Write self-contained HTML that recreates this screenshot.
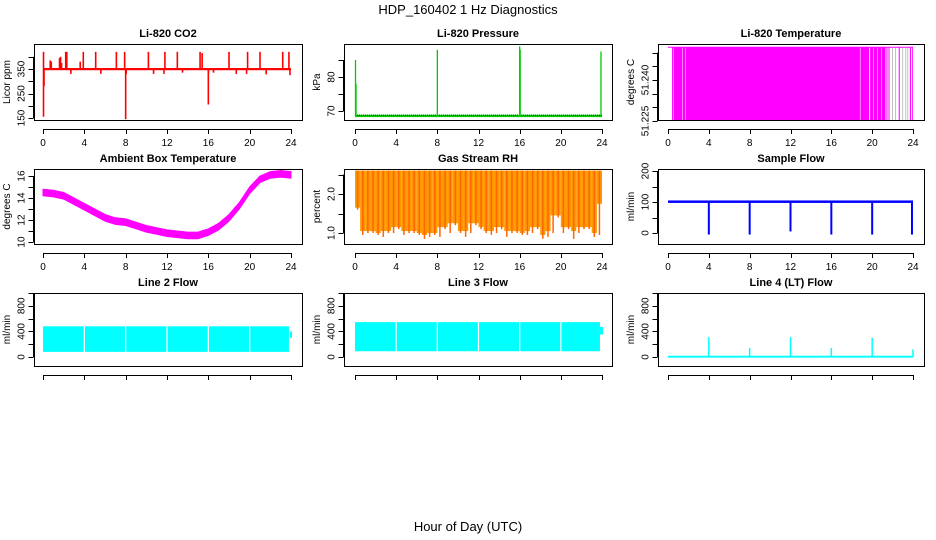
<!DOCTYPE html>
<html><head><meta charset="utf-8">
<style>
html,body{margin:0;padding:0;background:#fff;}
svg{display:block;font-family:"Liberation Sans",sans-serif;}
</style></head>
<body>
<svg id="c" width="936" height="540" viewBox="0 0 936 540" xmlns="http://www.w3.org/2000/svg">
<text x="468" y="14" text-anchor="middle" font-size="13">HDP_160402  1 Hz Diagnostics</text>
<text x="468" y="531" text-anchor="middle" font-size="13">Hour of Day (UTC)</text>
</svg>
<script>
// ---- data ----
const xTicks = [0,4,8,12,16,20,24];
const co2Base = 350;
const co2SpikeHours = [0.05,0.05,0.1,1.6,1.7,1.8,2.2,2.3,3.6,3.9,5.1,7.1,7.9,8.0,8.05,10.2,11.8,13.0,15.2,15.4,16.0,16.0,18.0,19.8,21.0,23.2,23.8,2.7,5.6,10.7,11.7,13.5,16.5,18.7,19.7,21.6,23.9,0.7,0.8];
const co2SpikeVals  = [420,155,280,395,400,375,420,420,380,420,420,420,420,145,330,420,420,420,420,415,330,205,420,420,420,420,420,330,330,330,330,335,335,330,330,328,325,385,380];
const presBase = 68.5;
const presSpikeHours = [0.05,0.1,8.0,16.0,16.05,23.9];
const presSpikeVals  = [85,78,88,89,88,87.5];
const ltTop = 51.252, ltBottom = 51.225;
const ltFillStart = [0.4,0.55,1.45,1.75,18.85,19.8,20.15,20.55,20.95,21.4,21.6,22.6,23.7,23.92];
const ltFillEnd   = [0.5,1.4,1.7,18.8,19.7,20.1,20.5,20.9,21.3,21.5,21.7,22.7,23.8,24.0];
const ambHours = [0,1,2,3,4,5,6,7,8,9,10,11,12,13,14,15,16,17,18,19,20,21,22,23,24];
const ambVals  = [14.5,14.4,14.2,13.7,13.2,12.7,12.2,11.9,11.8,11.5,11.2,11.0,10.8,10.7,10.6,10.6,10.9,11.4,12.2,13.3,14.7,15.7,16.1,16.2,16.1];
const rhHours = [0,0.5,1,1.5,2,2.5,3,3.5,4,4.5,5,5.5,6,6.5,7,7.5,8,8.5,9,9.5,10,10.5,11,11.5,12,12.5,13,13.5,14,14.5,15,15.5,16,16.5,17,17.5,18,18.5,19,19.5,20,20.5,21,21.5,22,22.5,23,23.5,24];
const rhLow   = [1.6,0.95,1.0,1.0,0.95,0.9,1.0,1.0,1.1,0.95,1.0,1.0,0.95,0.85,0.9,0.95,0.9,1.1,1.0,1.2,1.0,0.9,1.0,1.2,1.1,1.0,0.95,1.0,1.1,0.9,1.0,1.0,0.95,0.95,1.0,1.1,0.85,0.9,1.0,1.4,1.0,1.1,0.85,1.0,1.1,1.1,0.9,0.95,1.7];
const rhHigh = 2.6;
const sfBase = 100;
const sfDipHours = [4,8,12,16,20,23.9];
const sfDipVals  = [-5,-5,5,-5,-5,-5];
const l2Low = 80, l2High = 480;
const l2GapHours = [4,8,12,16,20];
const l3Low = 90, l3High = 545;
const l3GapHours = [4,8,12,16,20];
const l4SpikeHours = [4,8,12,16,20,24];
const l4SpikeVals  = [310,140,310,140,300,120];

// ---- layout ----
const svg = document.getElementById('c');
const NS = 'http://www.w3.org/2000/svg';
const cols = [{bx:34,bw:268,x0:43,x1:291},{bx:344,bw:268,x0:355,x1:602},{bx:658,bw:266,x0:668,x1:913}];
const rows = [{by:44,bh:76},{by:169,bh:75},{by:293,bh:73}];
function mk(tag, attrs, parent){const e=document.createElementNS(NS,tag);for(const k in attrs)e.setAttribute(k,attrs[k]);(parent||svg).appendChild(e);return e;}

function panel(ci,ri,title,ylab,yTicks,yLabels,yPix,showXLabels,name){
  const c=cols[ci], r=rows[ri];
  const g=mk('g',{});
  
  
  const xs=h=>c.x0+(c.x1-c.x0)*h/24;
  const ys=v=>yPix(v);
  const plot=mk('g',{},g);
  
  
  const box=mk('rect',{x:c.bx+0.5,y:r.by+0.5,width:c.bw,height:r.bh,fill:'none',stroke:'#000','stroke-width':1},g);
  
  
  const t=mk('text',{x:c.bx+c.bw/2,y:r.by-7,'text-anchor':'middle','font-size':11,'font-weight':'bold'},g);
  t.textContent=title;
  
  
  const ax=r.by+r.bh+9;
  const xa=mk('g',{},g);
  
  
  mk('line',{x1:xs(0),x2:xs(24),y1:ax+0.5,y2:ax+0.5,stroke:'#000'},xa);
  xTicks.forEach(h=>{
    mk('line',{x1:Math.round(xs(h))+0.5,x2:Math.round(xs(h))+0.5,y1:ax,y2:ax+5,stroke:'#000'},xa);
    if(showXLabels){const tl=mk('text',{x:xs(h),y:ax+17,'text-anchor':'middle','font-size':10},xa);tl.textContent=h;
      
      }
  });
  const ya=mk('g',{},g);
  
  
  const yl=c.bx-0.5;
  mk('line',{x1:yl,x2:yl,y1:ys(yTicks[0]),y2:ys(yTicks[yTicks.length-1]),stroke:'#000'},ya);
  yTicks.forEach(v=>{mk('line',{x1:yl-5,x2:yl,y1:Math.round(ys(v))+0.5,y2:Math.round(ys(v))+0.5,stroke:'#000'},ya);});
  yLabels.forEach(v=>{
    const tl=mk('text',{x:0,y:0,'text-anchor':'middle','font-size':10,transform:`translate(${yl-9},${ys(v)}) rotate(-90)`},ya);
    tl.textContent=v;
    
    
  });
  const yt=mk('text',{x:0,y:0,'text-anchor':'middle','font-size':10,transform:`translate(${c.bx-24},${r.by+r.bh/2}) rotate(-90)`},g);
  yt.textContent=ylab;
  
  
  return {plot,xs,ys};
}
function vline(p,h,v0,v1,col,w){return mk('line',{x1:p.xs(h),x2:p.xs(h),y1:p.ys(v0),y2:p.ys(v1),stroke:col,'stroke-width':w||1.5},p.plot);}
function hrect(p,h0,h1,v0,v1,col){return mk('rect',{x:p.xs(h0),y:Math.min(p.ys(v0),p.ys(v1)),width:p.xs(h1)-p.xs(h0),height:Math.abs(p.ys(v1)-p.ys(v0)),fill:col},p.plot);}

// CO2
let p=panel(0,0,'Li-820 CO2','Licor ppm',[150,200,250,300,350,400],[150,250,350],v=>118-(v-150)*49/200,true,'co2-panel');
let e=hrect(p,0,24,345,354,'#ff0000');


co2SpikeHours.forEach((h,i)=>{const s=vline(p,h,co2Base,co2SpikeVals[i],'#ff0000',1.6);
  
  });

// Pressure
p=panel(1,0,'Li-820 Pressure','kPa',[70,75,80,85],[70,80],v=>111-(v-70)*3.4,true,'pressure-panel');
e=hrect(p,0,24,68.2,68.9,'#00cc00');


e=mk('line',{x1:p.xs(0),x2:p.xs(24),y1:p.ys(68.75),y2:p.ys(68.75),stroke:'#000','stroke-dasharray':'1,1'},p.plot);


presSpikeHours.forEach((h,i)=>{const s=vline(p,h,presBase,presSpikeVals[i],'#00cc00',1.3);
  
  });

// Li-820 temperature
p=panel(2,0,'Li-820 Temperature','degrees C',[51.225,51.230,51.235,51.240,51.245,51.250],['51.225','51.240'],v=>121-(v-51.225)*41/0.015,false,'li820-temperature-panel');
e=mk('line',{x1:p.xs(0),x2:p.xs(24),y1:p.ys(ltTop),y2:p.ys(ltTop),stroke:'#ff00ff'},p.plot);


ltFillStart.forEach((h,i)=>{const s=hrect(p,h,ltFillEnd[i],ltBottom,ltTop,'#ff00ff');
  
  });
[22.0,22.3,23.0,23.3,23.5].forEach(h=>{const s=vline(p,h,ltBottom,ltTop,'#999',0.6);
  
  });
(function(){const c=cols[2],r=rows[0];xTicks.forEach(h=>{const tl=mk('text',{x:c.x0+(c.x1-c.x0)*h/24,y:r.by+r.bh+26,'text-anchor':'middle','font-size':10});tl.textContent=h;
  
  });})();

// Ambient
p=panel(0,1,'Ambient Box Temperature','degrees C',[10,11,12,13,14,15,16],[10,12,14,16],v=>242-(v-10)*11,true,'ambient-temperature-panel');
{let pts=ambHours.map((h,i)=>[p.xs(h),p.ys(ambVals[i]+0.3)]);
 let pts2=ambHours.slice().reverse().map((h,j)=>{const i=ambHours.length-1-j;return [p.xs(h),p.ys(ambVals[i]-0.3)];});
 e=mk('polygon',{points:pts.concat(pts2).map(q=>q.join(',')).join(' '),fill:'#ff00ff',stroke:'#ff00ff','stroke-width':1},p.plot);
 
 }

// RH
p=panel(1,1,'Gas Stream RH','percent',[1.0,1.5,2.0,2.5],['1.0','2.0'],v=>233-(v-1)*39,true,'rh-panel');
for(let i=0;i<rhHours.length-1;i++){
  const s=hrect(p,rhHours[i],rhHours[i+1],Math.max(rhLow[i],rhLow[i+1])+0.05,rhHigh,'#ff9900');
  
  
  const l=vline(p,rhHours[i]+0.25,rhLow[i],rhHigh,'#ff6600',1.5);
  
  
}

// Sample flow
p=panel(2,1,'Sample Flow','ml/min',[0,50,100,150,200],[0,100,200],v=>233-v*0.31,true,'sample-flow-panel');
e=hrect(p,0,24,97,105,'#0000ff');


sfDipHours.forEach((h,i)=>{const s=vline(p,h,sfBase,sfDipVals[i],'#0000ff',2);
  
  });

// Line 2
const fy=v=>357-v*0.064;
p=panel(0,2,'Line 2 Flow','ml/min',[0,200,400,600,800,1000],[0,400,800],fy,false,'line2-flow-panel');
e=hrect(p,0,23.8,l2Low,l2High,'#00ffff');


e=hrect(p,23.9,24.1,300,400,'#00ffff');


l2GapHours.forEach(h=>{const s=vline(p,h,l2Low-5,l2High+5,'#ffffff',1.2);
  
  });

// Line 3
p=panel(1,2,'Line 3 Flow','ml/min',[0,200,400,600,800,1000],[0,400,800],fy,false,'line3-flow-panel');
e=hrect(p,0,23.8,l3Low,l3High,'#00ffff');


e=hrect(p,23.8,24.1,350,470,'#00ffff');


l3GapHours.forEach(h=>{const s=vline(p,h,l3Low-5,l3High+5,'#ffffff',1.2);
  
  });

// Line 4
p=panel(2,2,'Line 4 (LT) Flow','ml/min',[0,200,400,600,800,1000],[0,400,800],fy,false,'line4-flow-panel');
e=hrect(p,0,24,-10,20,'#00ffff');


l4SpikeHours.forEach((h,i)=>{const s=vline(p,h,0,l4SpikeVals[i],'#00ffff',1.5);
  
  });
</script>
</body></html>
